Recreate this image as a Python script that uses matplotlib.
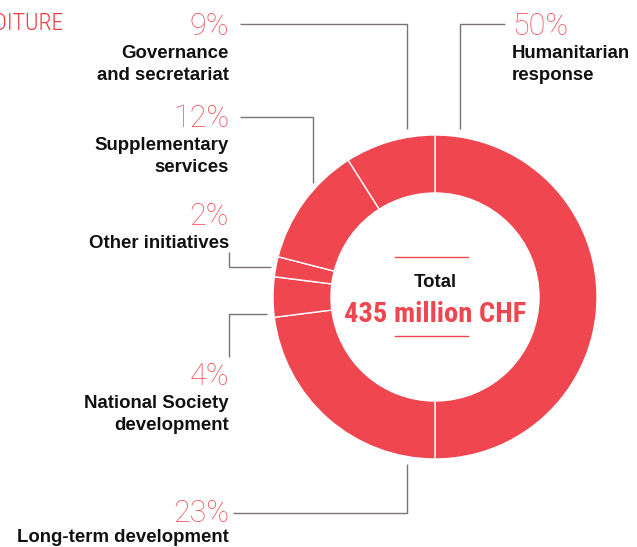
import matplotlib
matplotlib.use("Agg")
import matplotlib.pyplot as plt

# ---- data ----
categories = ["Humanitarian\nresponse", "Long-term development",
              "National Society\ndevelopment", "Other initiatives",
              "Supplementary\nservices", "Governance\nand secretariat"]
shares = [50, 23, 4, 2, 12, 9]
total_label = "435 million CHF"
title_text = "EXPENDITURE"

W, H = 637, 547
RED = "#EF4650"
PCT_RED = "#EF545E"
GREY = "#7B7371"
COND = ["Roboto Condensed", "Liberation Sans", "DejaVu Sans"]

fig = plt.figure(figsize=(W / 100, H / 100), dpi=100)
ax = fig.add_axes([0, 0, 1, 1])


def Y(y):
    return H - y


# donut
cx, cy, R = 435, 297, 162
ax.pie(shares, center=(cx, Y(cy)), radius=R, startangle=90, counterclock=False,
       wedgeprops=dict(width=58, edgecolor="white", linewidth=1.0),
       colors=[RED] * len(shares), frame=True)
ax.set_xlim(0, W)
ax.set_ylim(0, H)
ax.set_aspect("equal")
ax.axis("off")

# label layout: (x anchor, pct baseline, label baseline, ha, leader polyline)
layout = [
    (512, 35, 58, "left", [(505, 24), (460, 24), (460, 129)]),
    (229, 522, 542, "right", [(233, 513), (407, 513), (407, 464)]),
    (229, 385, 408, "right", [(267, 314), (229, 314), (229, 357)]),
    (229, 225, 248, "right", [(229, 252), (229, 267), (271, 267)]),
    (229, 127, 150, "right", [(240, 117), (313, 117), (313, 183)]),
    (229, 35, 58, "right", [(240, 24), (407, 24), (407, 129)]),
]

for cat, val, (x, yb, lb, ha, leader) in zip(categories, shares, layout):
    ax.text(x, Y(yb), f"{val}%", ha=ha, va="baseline", fontsize=22,
            family=["Roboto", "DejaVu Sans"], fontweight="light", color=PCT_RED)
    for i, line in enumerate(cat.split("\n")):
        ax.text(x, Y(lb + 22 * i), line, ha=ha, va="baseline", fontsize=13.4,
                family=["Liberation Sans", "DejaVu Sans"], fontweight="bold",
                color="#111111")
    xs = [p[0] for p in leader]
    ys = [Y(p[1]) for p in leader]
    ax.plot(xs, ys, color=GREY, lw=1.0, solid_capstyle="butt", solid_joinstyle="miter")

# centre text
ax.text(cx, Y(287), "Total", ha="center", va="baseline", fontsize=13.4,
        family=["Liberation Sans", "DejaVu Sans"], fontweight="bold", color="#111111")
ax.text(cx, Y(322), total_label, ha="center", va="baseline", fontsize=20.5,
        family=COND, fontweight="bold", color=RED)
ax.plot([395, 468], [Y(257), Y(257)], color=RED, lw=1.0)
ax.plot([395, 468], [Y(336), Y(336)], color=RED, lw=1.0)

# clipped title
ax.text(63, Y(30), title_text, ha="right", va="baseline", fontsize=17,
        family=COND, fontweight="light", color="#EE3B45")

fig.savefig("out.png", dpi=100)
